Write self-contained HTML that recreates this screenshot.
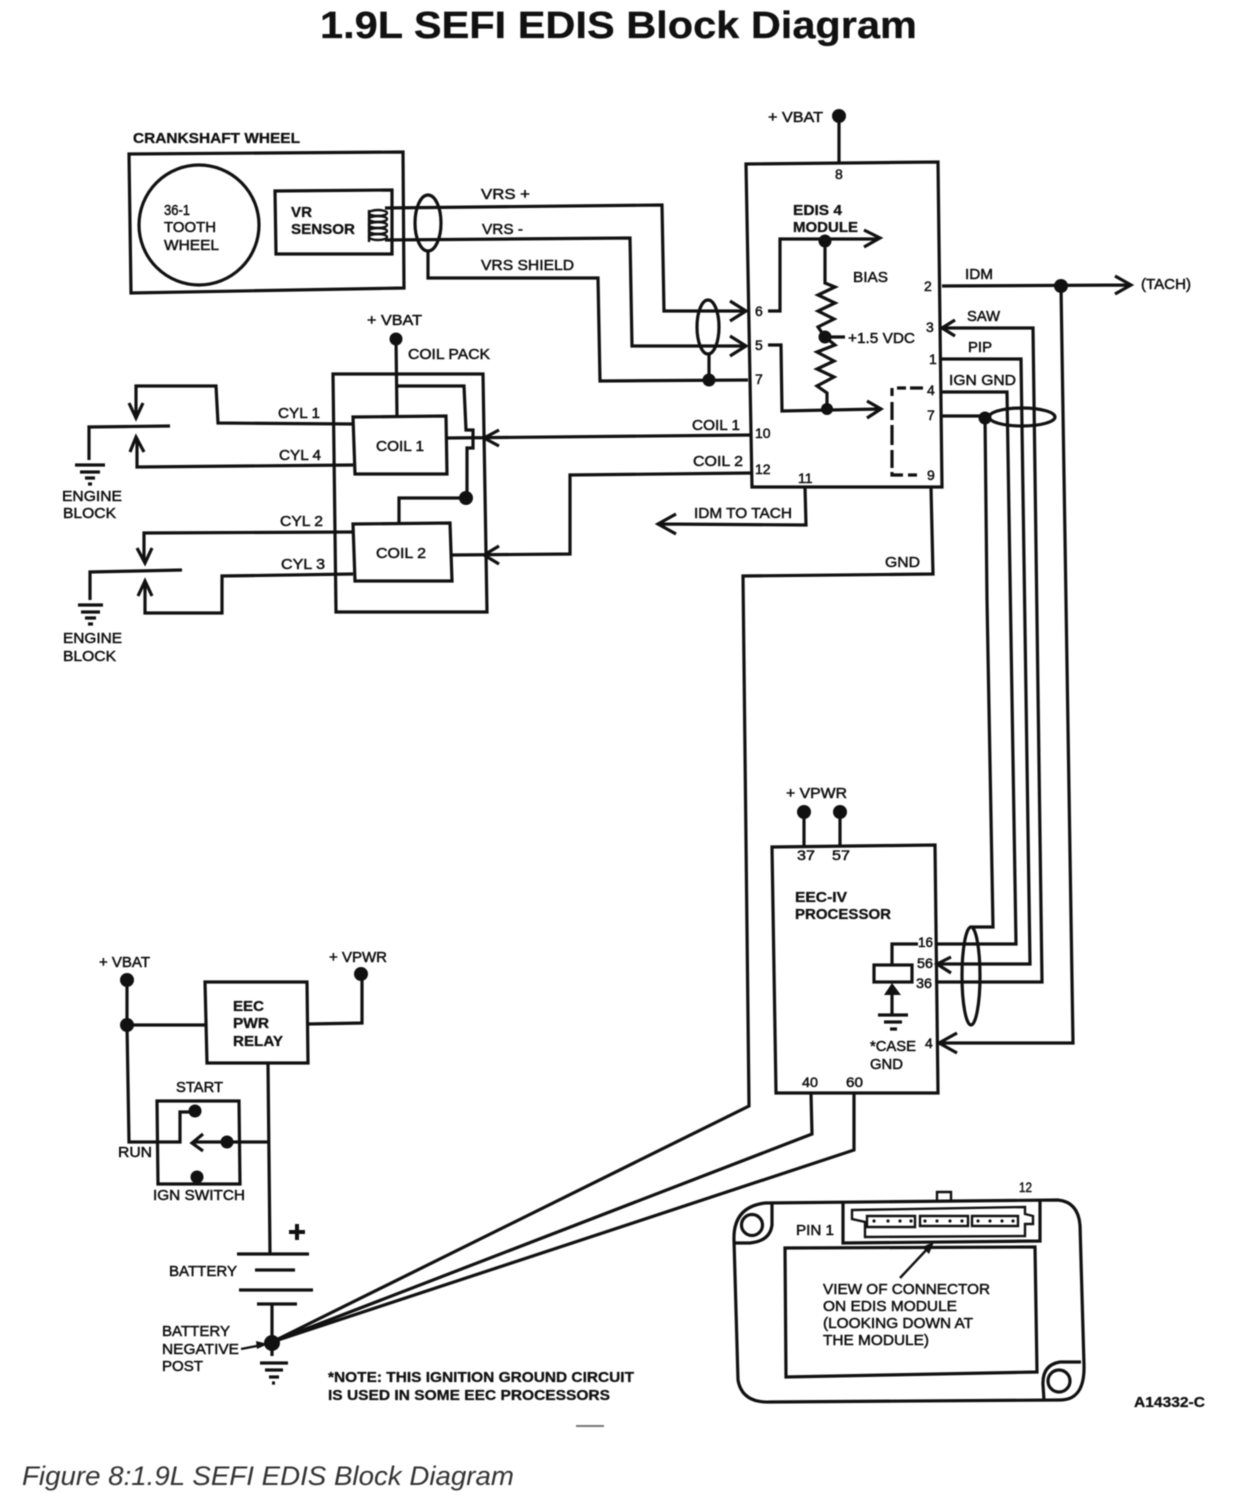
<!DOCTYPE html>
<html>
<head>
<meta charset="utf-8">
<style>
html,body{margin:0;padding:0;background:#fff}
svg{display:block;filter:blur(.6px)}
text{font-family:"Liberation Sans",sans-serif;font-size:15px;fill:#111;stroke:#111;stroke-width:.5px}
.b{font-weight:bold;stroke-width:.3px}
.p{font-size:14px}
.w{fill:none;stroke:#111;stroke-width:3.2;stroke-linejoin:miter}
.n{fill:none;stroke:#111;stroke-width:2.4}
.d{fill:#111;stroke:none}
</style>
</head>
<body>
<svg width="1244" height="1506" viewBox="0 0 1244 1506" xmlns="http://www.w3.org/2000/svg">
<rect width="1244" height="1506" fill="#fff"/>

<text x="320" y="38" class="b" style="font-size:38px" textLength="597" lengthAdjust="spacingAndGlyphs">1.9L SEFI EDIS Block Diagram</text>

<!-- crankshaft -->
<text x="133" y="143" class="b" textLength="167" lengthAdjust="spacingAndGlyphs">CRANKSHAFT WHEEL</text>
<path class="w" d="M129,154 L403,152 L404,288 L131,293 Z"/>
<circle class="w" cx="199" cy="225" r="60"/>
<text x="164" y="215" textLength="26" lengthAdjust="spacingAndGlyphs">36-1</text>
<text x="164" y="232" textLength="52" lengthAdjust="spacingAndGlyphs">TOOTH</text>
<text x="164" y="250" textLength="55" lengthAdjust="spacingAndGlyphs">WHEEL</text>
<path class="w" d="M275,191 L392,190 L392,254 L276,254 Z"/>
<text x="291" y="217" class="b" textLength="21" lengthAdjust="spacingAndGlyphs">VR</text>
<text x="291" y="234" class="b" textLength="64" lengthAdjust="spacingAndGlyphs">SENSOR</text>
<g style="fill:none;stroke:#111;stroke-width:2.4">
<path d="M369,210 V242"/>
<ellipse cx="378" cy="213" rx="9" ry="3"/><ellipse cx="378" cy="219" rx="9" ry="3"/><ellipse cx="378" cy="225" rx="9" ry="3"/><ellipse cx="378" cy="231" rx="9" ry="3"/><ellipse cx="378" cy="237" rx="9" ry="3"/>
</g>

<!-- VRS wires -->
<path class="w" d="M385,208 L662,205 L664,311 L745,311"/>
<path class="w" d="M385,240 L630,238 L632,346 L745,346"/>
<path class="w" d="M428,251 L428,278 L598,278 L600,381 L748,380"/>
<path class="w" d="M730,301 L746,311 L730,321 M730,336 L746,346 L730,356"/>
<ellipse class="w" cx="428" cy="223" rx="13" ry="28"/>
<ellipse class="w" cx="708" cy="327" rx="11" ry="27"/>
<path class="w" d="M709,354 V380"/>
<circle class="d" cx="709" cy="380" r="6.5"/>
<text x="481" y="199" textLength="49" lengthAdjust="spacingAndGlyphs">VRS +</text>
<text x="482" y="234" textLength="41" lengthAdjust="spacingAndGlyphs">VRS -</text>
<text x="481" y="270" textLength="93" lengthAdjust="spacingAndGlyphs">VRS SHIELD</text>

<!-- EDIS module -->
<text x="768" y="122" textLength="55" lengthAdjust="spacingAndGlyphs">+ VBAT</text>
<circle class="d" cx="839" cy="116" r="7"/>
<path class="w" d="M839,116 V163"/>
<path class="w" d="M746,164 L938,162 L942,487 L752,487 Z"/>
<text x="835" y="179" class="p">8</text>
<text x="793" y="215" class="b" textLength="49" lengthAdjust="spacingAndGlyphs">EDIS 4</text>
<text x="793" y="232" class="b" textLength="65" lengthAdjust="spacingAndGlyphs">MODULE</text>
<path class="w" d="M768,311 H780 V239 H879 M864,230 L880,238 L864,247"/>
<circle class="d" cx="825" cy="241" r="6.5"/>
<path class="w" d="M825,241 V283 L835,287 L818,295 L835,303 L818,311 L834,319 L818,327 L825,337 L835,345 L817,352 L834,361 L817,369 L834,377 L817,386 L827,393 V409"/>
<circle class="d" cx="825" cy="337" r="6.5"/>
<path class="w" d="M825,337 H845"/>
<text x="848" y="343" textLength="67" lengthAdjust="spacingAndGlyphs">+1.5 VDC</text>
<text x="853" y="282" textLength="35" lengthAdjust="spacingAndGlyphs">BIAS</text>
<path class="w" d="M768,345 H781 L782,411 L880,409 M867,401 L881,409 L867,418"/>
<circle class="d" cx="827" cy="409" r="6"/>
<path class="w" d="M892,388 V396 M897,388 H906 M910,388 H923 M892,402 V420 M892,425 V445 M892,450 V468 M892,472 V475 H903 M908,475 H917"/>
<text x="755" y="316" class="p">6</text>
<text x="755" y="350" class="p">5</text>
<text x="755" y="384" class="p">7</text>
<text x="755" y="438" class="p">10</text>
<text x="755" y="474" class="p">12</text>
<text x="798" y="483" class="p">11</text>
<text x="924" y="291" class="p">2</text>
<text x="926" y="332" class="p">3</text>
<text x="929" y="364" class="p">1</text>
<text x="927" y="395" class="p">4</text>
<text x="927" y="420" class="p">7</text>
<text x="927" y="480" class="p">9</text>

<!-- right wires -->
<text x="965" y="279" textLength="28" lengthAdjust="spacingAndGlyphs">IDM</text>
<path class="w" d="M942,286 L1130,285 M1115,276 L1131,285 L1115,294"/>
<circle class="d" cx="1061" cy="286" r="7"/>
<path class="w" d="M1061,286 L1073,1043 L940,1043 M957,1033 L939,1043 L957,1053"/>
<text x="1141" y="289" textLength="50" lengthAdjust="spacingAndGlyphs">(TACH)</text>
<text x="967" y="321" textLength="33" lengthAdjust="spacingAndGlyphs">SAW</text>
<path class="w" d="M945,328 L1033,328 L1042,982 L935,982 M955,320 L942,328 L955,336"/>
<text x="968" y="352" textLength="24" lengthAdjust="spacingAndGlyphs">PIP</text>
<path class="w" d="M942,359 H1021 L1030,964 L938,964 M951,957 L937,964 L951,973"/>
<text x="949" y="385" textLength="67" lengthAdjust="spacingAndGlyphs">IGN GND</text>
<path class="w" d="M942,392 H1007 L1016,944 H935"/>
<path class="w" d="M942,416 H985 L987,600 L993,927 H970"/>
<circle class="d" cx="985" cy="418" r="6.5"/>
<ellipse class="w" cx="1022" cy="417" rx="33" ry="9"/>
<ellipse class="w" cx="971" cy="976" rx="9" ry="49"/>

<!-- GND, IDM TO TACH -->
<path class="w" d="M805,487 L806,525 L660,524 M676,514 L658,524 L676,534"/>
<text x="694" y="518" textLength="98" lengthAdjust="spacingAndGlyphs">IDM TO TACH</text>
<path class="w" d="M931,487 L933,574 L743,576 L749,1106 L272,1342"/>
<text x="885" y="567" textLength="35" lengthAdjust="spacingAndGlyphs">GND</text>
<path class="w" d="M811,1093 L812,1134 L272,1342"/>
<path class="w" d="M854,1093 L854,1150 L272,1342"/>

<!-- coil pack -->
<text x="367" y="325" textLength="55" lengthAdjust="spacingAndGlyphs">+ VBAT</text>
<circle class="d" cx="396" cy="339" r="6.5"/>
<text x="408" y="359" textLength="82" lengthAdjust="spacingAndGlyphs">COIL PACK</text>
<path class="w" d="M333,374 L483,374 L487,612 L336,612 Z"/>
<path class="w" d="M396,339 L397,416"/>
<path class="w" d="M353,417 L446,416 L447,474 L355,474 Z"/>
<text x="376" y="451" textLength="48" lengthAdjust="spacingAndGlyphs">COIL 1</text>
<path class="w" d="M353,524 L450,523 L452,581 L355,581 Z"/>
<text x="376" y="558" textLength="50" lengthAdjust="spacingAndGlyphs">COIL 2</text>
<path class="w" d="M397,386 H464 L466,430 H473 V448 H467 L467,498 H399 V523"/>
<circle class="d" cx="466" cy="498" r="7"/>
<path class="w" d="M447,438 L752,435 M499,430 L484,438 L499,446"/>
<path class="w" d="M452,555 L570,554 V475 L752,473 M499,546 L484,555 L499,564"/>
<text x="692" y="430" textLength="48" lengthAdjust="spacingAndGlyphs">COIL 1</text>
<text x="693" y="466" textLength="50" lengthAdjust="spacingAndGlyphs">COIL 2</text>
<text x="278" y="418" textLength="42" lengthAdjust="spacingAndGlyphs">CYL 1</text>
<text x="279" y="460" textLength="42" lengthAdjust="spacingAndGlyphs">CYL 4</text>
<text x="280" y="526" textLength="43" lengthAdjust="spacingAndGlyphs">CYL 2</text>
<text x="281" y="569" textLength="44" lengthAdjust="spacingAndGlyphs">CYL 3</text>

<path class="w" d="M353,424 L218,423 L216,386 H136 V417 M129,403 L136,418 L143,403"/>
<path class="w" d="M353,465 L137,467 V438 M130,452 L136,437 L144,452"/>
<path class="w" d="M170,426 L89,427 V460"/>
<path class="w" d="M75,465 H105 M80,472 H100 M85,478 H95 M88,484 H92"/>
<text x="62" y="501" textLength="60" lengthAdjust="spacingAndGlyphs">ENGINE</text>
<text x="63" y="518" textLength="53" lengthAdjust="spacingAndGlyphs">BLOCK</text>

<path class="w" d="M353,532 L144,533 V562 M137,548 L145,563 L152,548"/>
<path class="w" d="M353,574 L222,576 V613 H145 V582 M138,596 L145,581 L152,596"/>
<path class="w" d="M182,570 L90,572 V600"/>
<path class="w" d="M78,605 H103 M81,612 H100 M85,618 H96 M88,624 H93"/>
<text x="63" y="643" textLength="59" lengthAdjust="spacingAndGlyphs">ENGINE</text>
<text x="63" y="661" textLength="53" lengthAdjust="spacingAndGlyphs">BLOCK</text>

<!-- EEC-IV -->
<text x="786" y="798" textLength="61" lengthAdjust="spacingAndGlyphs">+ VPWR</text>
<circle class="d" cx="804" cy="812" r="7"/>
<circle class="d" cx="840" cy="812" r="7"/>
<path class="w" d="M804,812 V846 M840,812 V846"/>
<path class="w" d="M772,847 L935,845 L938,1093 L776,1093 Z"/>
<text x="797" y="860" class="p" textLength="18" lengthAdjust="spacingAndGlyphs">37</text>
<text x="832" y="860" class="p" textLength="18" lengthAdjust="spacingAndGlyphs">57</text>
<text x="795" y="902" class="b" textLength="52" lengthAdjust="spacingAndGlyphs">EEC-IV</text>
<text x="795" y="919" class="b" textLength="96" lengthAdjust="spacingAndGlyphs">PROCESSOR</text>
<text x="918" y="947" class="p" textLength="15" lengthAdjust="spacingAndGlyphs">16</text>
<text x="917" y="968" class="p" textLength="16" lengthAdjust="spacingAndGlyphs">56</text>
<text x="916" y="988" class="p" textLength="16" lengthAdjust="spacingAndGlyphs">36</text>
<text x="925" y="1048" class="p">4</text>
<path class="w" d="M918,944 H892 V965"/>
<rect class="w" x="874" y="965" width="38" height="17"/>
<path class="d" d="M892,983 L901,995 H884 Z"/>
<path class="w" d="M892,995 V1014"/>
<path class="w" d="M878,1015 H908 M884,1022 H902 M890,1029 H897"/>
<text x="870" y="1051" textLength="46" lengthAdjust="spacingAndGlyphs">*CASE</text>
<text x="870" y="1069" textLength="33" lengthAdjust="spacingAndGlyphs">GND</text>
<text x="802" y="1087" class="p" textLength="16" lengthAdjust="spacingAndGlyphs">40</text>
<text x="846" y="1087" class="p" textLength="17" lengthAdjust="spacingAndGlyphs">60</text>

<!-- relay -->
<text x="99" y="967" textLength="51" lengthAdjust="spacingAndGlyphs">+ VBAT</text>
<circle class="d" cx="127" cy="980" r="7"/>
<circle class="d" cx="127" cy="1025" r="7"/>
<path class="w" d="M127,980 V1025 L129,1142 H180 V1112 H195 M127,1025 H205"/>
<path class="w" d="M205,982 L307,982 L308,1063 L207,1063 Z"/>
<text x="233" y="1011" class="b" textLength="31" lengthAdjust="spacingAndGlyphs">EEC</text>
<text x="233" y="1028" class="b" textLength="36" lengthAdjust="spacingAndGlyphs">PWR</text>
<text x="233" y="1046" class="b" textLength="50" lengthAdjust="spacingAndGlyphs">RELAY</text>
<path class="w" d="M308,1024 L362,1023 V975"/>
<circle class="d" cx="361" cy="974" r="7"/>
<text x="329" y="962" textLength="58" lengthAdjust="spacingAndGlyphs">+ VPWR</text>
<text x="176" y="1092" textLength="47" lengthAdjust="spacingAndGlyphs">START</text>
<path class="w" d="M157,1101 L239,1101 L240,1184 L158,1184 Z"/>
<circle class="d" cx="195" cy="1111" r="6.5"/>
<circle class="d" cx="197" cy="1177" r="6.5"/>
<circle class="d" cx="227" cy="1142" r="6.5"/>
<path class="w" d="M270,1142 H193 M203,1134 L192,1143 L203,1151"/>
<text x="118" y="1157" textLength="34" lengthAdjust="spacingAndGlyphs">RUN</text>
<text x="153" y="1200" textLength="92" lengthAdjust="spacingAndGlyphs">IGN SWITCH</text>
<path class="w" d="M268,1064 L270,1254"/>
<path d="M289,1232 H305 M297,1224 V1240" fill="none" stroke="#111" stroke-width="4"/>
<path class="w" d="M237,1254 H309 M255,1270 H295 M239,1290 H313 M257,1304 H297 M272,1304 V1356"/>
<text x="169" y="1276" textLength="68" lengthAdjust="spacingAndGlyphs">BATTERY</text>
<circle class="d" cx="272" cy="1343" r="8"/>
<path class="w" d="M260,1363 H288 M265,1370 H283 M269,1377 H279 M272,1383 H275"/>
<text x="162" y="1336" textLength="68" lengthAdjust="spacingAndGlyphs">BATTERY</text>
<text x="162" y="1354" textLength="77" lengthAdjust="spacingAndGlyphs">NEGATIVE</text>
<text x="162" y="1371" textLength="41" lengthAdjust="spacingAndGlyphs">POST</text>
<path class="n" d="M241,1349 L262,1345"/>
<path class="d" d="M268,1344 L256,1341 L257,1349 Z"/>

<text x="328" y="1382" class="b" textLength="306" lengthAdjust="spacingAndGlyphs">*NOTE: THIS IGNITION GROUND CIRCUIT</text>
<text x="328" y="1400" class="b" textLength="282" lengthAdjust="spacingAndGlyphs">IS USED IN SOME EEC PROCESSORS</text>
<path d="M576,1426 H604" stroke="#777" stroke-width="2"/>

<!-- connector view -->
<path class="w" d="M765,1203 L1058,1200 Q1078,1202 1080,1225 L1084,1365 Q1085,1400 1060,1400 L770,1402 Q742,1403 738,1380 L734,1240 Q733,1207 765,1203 Z"/>
<circle class="w" cx="752" cy="1225" r="10.5"/>
<path class="w" d="M772,1204 V1225 Q770,1241 750,1243 H735"/>
<circle class="w" cx="1059" cy="1381" r="11"/>
<path class="w" d="M1081,1362 H1060 Q1042,1365 1043,1385 L1044,1400"/>
<path class="w" d="M785,1248 L1035,1247 L1037,1372 L786,1377 Z"/>
<path class="w" d="M843,1203 V1243 L1040,1241 L1040,1201"/>
<path class="w" d="M852,1210 L1025,1207 V1214 L1033,1216 V1224 H1025 V1236 L865,1237 V1222 L852,1219 Z" style="stroke-width:2.4"/>
<path class="n" d="M867,1216 H915 V1227 H867 Z M920,1216 H968 V1226 H920 Z M972,1216 H1018 V1226 H972 Z"/>
<g class="d">
<circle cx="874" cy="1221" r="1.6"/><circle cx="888" cy="1221" r="1.6"/><circle cx="900" cy="1221" r="1.6"/><circle cx="911" cy="1221" r="1.6"/>
<circle cx="925" cy="1221" r="1.6"/><circle cx="937" cy="1221" r="1.6"/><circle cx="950" cy="1221" r="1.6"/><circle cx="962" cy="1221" r="1.6"/>
<circle cx="978" cy="1221" r="1.6"/><circle cx="990" cy="1221" r="1.6"/><circle cx="1002" cy="1221" r="1.6"/><circle cx="1013" cy="1221" r="1.6"/>
</g>
<path class="n" d="M937,1201 V1192 H951 V1201"/>
<text x="1019" y="1192" class="p" textLength="13" lengthAdjust="spacingAndGlyphs">12</text>
<text x="796" y="1235" textLength="38" lengthAdjust="spacingAndGlyphs">PIN 1</text>
<path class="n" d="M900,1278 L930,1246"/>
<path class="d" d="M934,1242 L922,1247 L929,1254 Z"/>
<text x="823" y="1294" textLength="167" lengthAdjust="spacingAndGlyphs">VIEW OF CONNECTOR</text>
<text x="823" y="1311" textLength="134" lengthAdjust="spacingAndGlyphs">ON EDIS MODULE</text>
<text x="823" y="1328" textLength="150" lengthAdjust="spacingAndGlyphs">(LOOKING DOWN AT</text>
<text x="823" y="1345" textLength="106" lengthAdjust="spacingAndGlyphs">THE MODULE)</text>
<text x="1134" y="1407" class="b" textLength="71" lengthAdjust="spacingAndGlyphs">A14332-C</text>

<text x="22" y="1485" style="font-size:27px;font-style:italic;fill:#333;stroke:none" textLength="492" lengthAdjust="spacingAndGlyphs">Figure 8:1.9L SEFI EDIS Block Diagram</text>
</svg>
</body>
</html>
